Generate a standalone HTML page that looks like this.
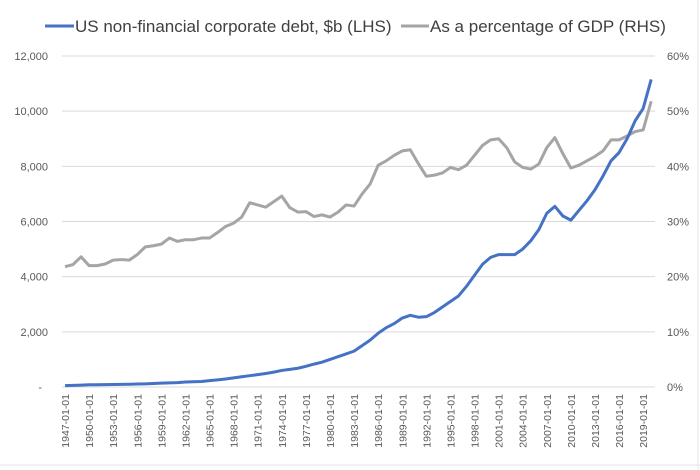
<!DOCTYPE html>
<html><head><meta charset="utf-8"><style>
body{margin:0;background:#fff}
svg{display:block;font-family:"Liberation Sans",sans-serif}
</style></head><body>
<svg id="chart" width="700" height="470">
<rect x="0" y="0" width="700" height="470" fill="#fff"/>
<line x1="698" y1="0" x2="698" y2="470" stroke="#e4e4e4"/>
<line x1="0" y1="465" x2="700" y2="465" stroke="#e4e4e4"/>
<g>
<g><line x1="45" y1="26" x2="74" y2="26" stroke="#4472C4" stroke-width="3"/><text x="75" y="32" font-size="17" fill="#404040">US non-financial corporate debt, $b (LHS)</text></g>
<g><line x1="401" y1="26" x2="429" y2="26" stroke="#A5A5A5" stroke-width="3"/><text x="430" y="32" font-size="17" fill="#404040">As a percentage of GDP (RHS)</text></g>
</g>
<g id="grid"></g><g id="axes"></g><g id="series"></g>
</svg>
<script>
const years=[];for(let y=1947;y<=2020;y++)years.push(y);
const debt=[50,60,70,80,80,85,90,95,100,110,115,125,140,150,160,180,190,200,230,260,290,330,370,410,450,490,540,600,640,680,750,830,900,1000,1100,1200,1300,1500,1700,1950,2150,2300,2500,2600,2530,2550,2700,2900,3100,3300,3650,4050,4450,4700,4800,4800,4800,5000,5300,5700,6300,6550,6200,6050,6400,6750,7150,7650,8200,8500,9000,9650,10100,11150];
const pct=[21.8,22.2,23.6,22.0,22.0,22.3,23.0,23.1,23.0,24.0,25.4,25.6,25.9,27.0,26.4,26.7,26.7,27.0,27.0,28.0,29.1,29.7,30.8,33.4,33.0,32.6,33.6,34.6,32.5,31.7,31.8,30.9,31.2,30.8,31.7,33.0,32.8,35.0,36.8,40.2,41.0,42.0,42.8,43.0,40.5,38.2,38.4,38.8,39.8,39.4,40.2,42.0,43.8,44.8,45.0,43.4,40.8,39.8,39.5,40.4,43.4,45.2,42.3,39.7,40.2,41.0,41.8,42.8,44.8,44.8,45.5,46.3,46.6,51.8];
const leftTicks=[0,2000,4000,6000,8000,10000,12000];
const leftLabels=["-","2,000","4,000","6,000","8,000","10,000","12,000"];
const rightLabels=["0%","10%","20%","30%","40%","50%","60%"];
const NS="http://www.w3.org/2000/svg";
const x=y=>65+(y-1947)*8.03;
const yL=v=>387-v/12000*331;
const yR=p=>387-p/60*331;
function mk(t,a,p){const e=document.createElementNS(NS,t);for(const k in a)e.setAttribute(k,a[k]);p.appendChild(e);return e;}
const grid=document.getElementById('grid'),axes=document.getElementById('axes'),ser=document.getElementById('series');
leftTicks.forEach((v,i)=>{
 if(i>0){const g=mk('line',{x1:62,x2:655,y1:yL(v),y2:yL(v),stroke:'#d9d9d9'},grid);
 
 }
 const t=mk('text',{x:i===0?42:48,y:yL(v)+4,'font-size':11,fill:'#595959','text-anchor':'end'},axes);t.textContent=leftLabels[i];
 
 
 const r=mk('text',{x:667,y:yL(v)+4,'font-size':11,fill:'#595959'},axes);r.textContent=rightLabels[i];
 
 
});
const ax=mk('line',{x1:62,x2:655,y1:387,y2:387,stroke:'#d9d9d9'},axes);


years.forEach(y=>{if((y-1947)%3===0){
 const t=mk('text',{transform:`translate(${x(y)+4},394) rotate(-90)`,'font-size':10.5,fill:'#595959','text-anchor':'end'},axes);
 t.textContent=y+'-01-01';
 
 }});
const pg=mk('polyline',{points:pct.map((v,i)=>x(years[i])+','+yR(v)).join(' '),fill:'none',stroke:'#A5A5A5','stroke-width':3,'stroke-linejoin':'round'},ser);


const pd=mk('polyline',{points:debt.map((v,i)=>x(years[i])+','+yL(v)).join(' '),fill:'none',stroke:'#4472C4','stroke-width':3,'stroke-linejoin':'round'},ser);


</script>
</body></html>
